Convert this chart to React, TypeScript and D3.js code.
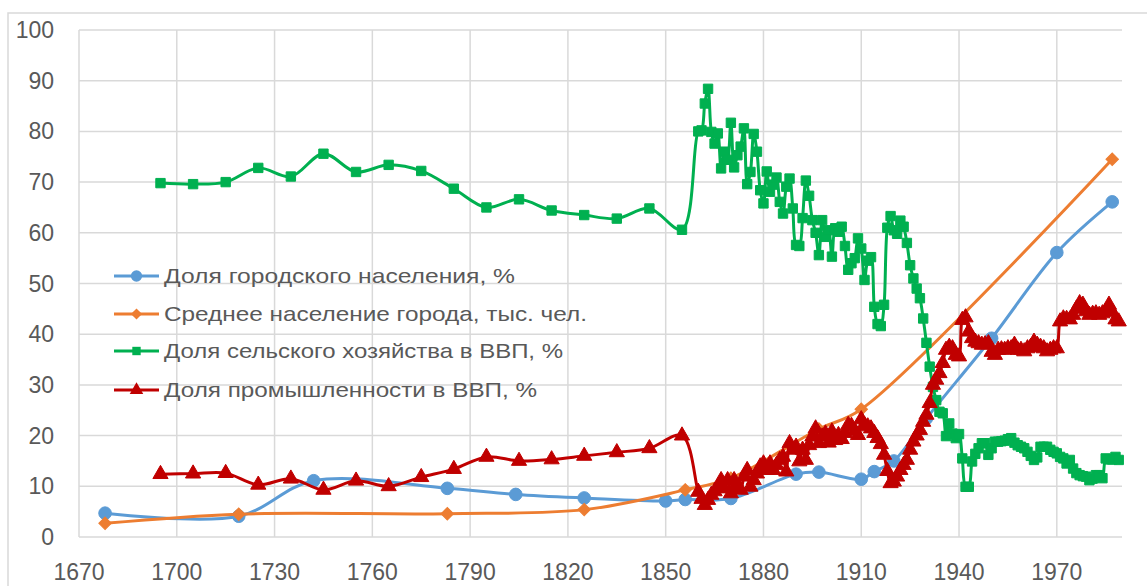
import React from 'react';
import * as d3 from 'd3';

// years on the axis
const xTicks = [1670, 1700, 1730, 1760, 1790, 1820, 1850, 1880, 1910, 1940, 1970];
const yTicks = [0, 10, 20, 30, 40, 50, 60, 70, 80, 90, 100];

// Доля городского населения, %
const urbanYears = [1678, 1719, 1742, 1783, 1804, 1825, 1850, 1856, 1870, 1890, 1897, 1910, 1914, 1920, 1930, 1950, 1970, 1987];
const urbanValues = [4.7, 4.1, 11.1, 9.6, 8.4, 7.7, 7.1, 7.4, 7.6, 12.4, 12.8, 11.4, 12.9, 15.0, 23.4, 39.2, 56.1, 66.1];

// Среднее население города, тыс. чел.
const cityYears = [1678, 1719, 1783, 1825, 1856, 1870, 1897, 1910, 1987];
const cityValues = [2.7, 4.5, 4.6, 5.4, 9.3, 11.6, 21.3, 25.2, 74.5];

// Доля сельского хозяйства в ВВП, %
const agriEarlyYears = [1695, 1705, 1715, 1725, 1735, 1745, 1755, 1765, 1775, 1785, 1795, 1805, 1815, 1825, 1835, 1845, 1855];
const agriEarlyValues = [69.8, 69.6, 70.0, 72.8, 71.1, 75.6, 72.0, 73.4, 72.2, 68.7, 65.0, 66.6, 64.4, 63.5, 62.8, 64.8, 60.6];
const agriAnnualValues = [
  80.0, 80.2, 85.5, 88.4, 79.9, 77.6, 79.6, 72.7, 76.0, 74.4, // 1860-1869
  81.7, 72.9, 75.3, 77.0, 80.6, 69.6, 72.0, 79.5, 76.0, 68.4, // 1870-1879
  65.8, 72.1, 68.1, 69.5, 70.9, 66.1, 63.8, 69.1, 70.7, 64.8, // 1880-1889
  57.6, 57.4, 62.9, 70.3, 67.3, 62.5, 60.0, 55.6, 62.5, 59.2, // 1890-1899
  60.5, 55.3, 60.9, 60.2, 61.2, 57.4, 52.7, 54.0, 55.0, 58.9, // 1900-1909
  56.9, 50.7, 54.5, 55.2, 45.4, 42.0, 41.6, 45.8, 61.0, 63.3, // 1910-1919
  60.5, 59.8, 62.4, 61.2, 58.0, 53.6, 51.0, 49.0, 47.1, 43.1, // 1920-1929
  38.3, 33.6, 29.6, 27.0, 24.7, 24.4, 19.9, 22.4, 20.4, 19.5, // 1930-1939
  20.3, 15.5, 9.9, 9.9, 14.9, 16.4, 17.5, 18.5, 18.5, 16.2,   // 1940-1949
  17.5, 18.8, 18.8, 18.9, 19.0, 19.3, 19.5, 18.6, 18.1, 17.8, // 1950-1959
  17.5, 16.8, 16.0, 15.2, 15.7, 17.8, 17.8, 17.8, 17.2, 16.8, // 1960-1969
  16.5, 15.8, 15.5, 14.5, 15.2, 13.5, 12.6, 12.2, 12.0, 11.9, // 1970-1979
  11.2, 11.5, 12.2, 12.2, 11.6, 15.5, 15.3, 15.3, 15.8, 15.2  // 1980-1989
];

// Доля промышленности в ВВП, %
const indEarlyYears = [1695, 1705, 1715, 1725, 1735, 1745, 1755, 1765, 1775, 1785, 1795, 1805, 1815, 1825, 1835, 1845, 1855];
const indEarlyValues = [12.4, 12.5, 12.6, 10.3, 11.5, 9.3, 11.1, 10.0, 11.8, 13.4, 15.8, 15.0, 15.3, 16.0, 16.7, 17.5, 20.0];
const indAnnualValues = [
  8.9, 7.5, 6.3, 7.3, 8.3, 9.0, 9.6, 11.2, 9.6, 11.2,        // 1860-1869
  8.6, 11.2, 9.9, 9.3, 11.9, 13.2, 9.9, 11.2, 12.5, 13.9,    // 1870-1879
  14.5, 13.2, 14.5, 13.2, 14.2, 15.2, 15.8, 12.9, 18.5, 17.2, // 1880-1889
  17.8, 14.9, 17.2, 15.2, 18.1, 19.8, 21.4, 18.5, 19.8, 20.4, // 1890-1899
  18.6, 20.8, 19.1, 20.1, 19.3, 20.5, 22.1, 21.9, 21.0, 20.1, // 1900-1909
  23.2, 22.1, 21.8, 21.4, 20.5, 19.5, 18.3, 16.2, 13.0, 10.6, // 1910-1919
  10.9, 11.9, 13.2, 14.2, 15.2, 17.2, 18.8, 20.0, 21.1, 22.7, // 1920-1929
  24.1, 26.4, 30.0, 31.0, 32.3, 34.3, 36.9, 37.5, 37.2, 35.9, // 1930-1939
  35.6, 42.8, 43.3, 40.5, 39.2, 38.5, 38.2, 37.9, 38.0, 38.2, // 1940-1949
  36.5, 35.9, 36.9, 37.0, 36.9, 37.2, 37.2, 37.9, 36.9, 36.9, // 1950-1959
  36.6, 37.2, 37.5, 38.5, 37.9, 37.5, 37.2, 36.6, 36.9, 37.2, // 1960-1969
  37.2, 42.5, 43.1, 43.0, 42.9, 43.8, 45.0, 46.1, 45.8, 44.5, // 1970-1979
  43.8, 44.0, 44.1, 43.8, 44.1, 44.5, 45.8, 44.4, 42.9, 42.5  // 1980-1989
];
const annualYears = d3.range(1860, 1990);

type Pt = [number, number];
const zip = (ys: number[], vs: number[]): Pt[] => ys.map((yr, i) => [yr, vs[i]]);

const series = [
  { name: 'Доля городского населения, %', color: '#5B9BD5', symbol: d3.symbolCircle, size: 125, rotate: 0, legendWidth: 351,
    points: zip(urbanYears, urbanValues) },
  { name: 'Среднее население города, тыс. чел.', color: '#ED7D31', symbol: d3.symbolSquare, size: 78, rotate: 45, legendWidth: 423,
    points: zip(cityYears, cityValues) },
  { name: 'Доля сельского хозяйства в ВВП, %', color: '#00B050', symbol: d3.symbolSquare, size: 88, rotate: 0, legendWidth: 399,
    points: zip(agriEarlyYears, agriEarlyValues).concat(zip(annualYears, agriAnnualValues)) },
  { name: 'Доля промышленности в ВВП, %', color: '#C00000', symbol: d3.symbolTriangle, size: 100, rotate: 0, legendWidth: 373,
    points: zip(indEarlyYears, indEarlyValues).concat(zip(annualYears, indAnnualValues)) },
];

const W = 1147;
const H = 586;
const plot = { left: 79, right: 1122, top: 30, bottom: 537 };
const font = '"Liberation Sans", Arial, sans-serif';
const textColor = '#595959';
const gridColor = '#d9d9d9';

export default function App() {
  const x = d3.scaleLinear().domain([1670, 1990]).range([plot.left, plot.right]);
  const y = d3.scaleLinear().domain([0, 100]).range([plot.bottom, plot.top]);
  const line = d3.line<Pt>()
    .x(d => x(d[0]))
    .y(d => y(d[1]))
    .curve(d3.curveCatmullRom.alpha(0.5));

  const legendX = 114;
  const legendRows = [276, 314, 351, 390];

  return (
    <svg width={W} height={H} style={{ position: 'absolute', left: 0, top: 0, background: '#fff' }}>
      {/* chart border, cut off on right/bottom like the reference */}
      <rect x={8} y={13} width={W + 20} height={H + 20} fill="#fff" stroke={gridColor} strokeWidth={1.5} />

      {/* grid */}
      {yTicks.map(t => (
        <line key={'h' + t} x1={plot.left} x2={plot.right} y1={y(t)} y2={y(t)} stroke={gridColor} strokeWidth={1.5} />
      ))}
      {xTicks.map(t => (
        <line key={'v' + t} x1={x(t)} x2={x(t)} y1={plot.top} y2={plot.bottom} stroke={gridColor} strokeWidth={1.5} />
      ))}

      {/* axis labels */}
      {yTicks.map(t => (
        <text key={'yl' + t} x={54} y={y(t)} dy="0.35em" textAnchor="end" fontFamily={font} fontSize={23} fill={textColor}>
          {t}
        </text>
      ))}
      {xTicks.map(t => (
        <text key={'xl' + t} x={x(t)} y={572} dy="0.35em" textAnchor="middle" fontFamily={font} fontSize={23} fill={textColor}>
          {t}
        </text>
      ))}

      {/* series */}
      {series.map(s => (
        <g key={s.name}>
          <path d={line(s.points) || ''} fill="none" stroke={s.color} strokeWidth={3} strokeLinejoin="round" />
          {s.points.map((p, i) => (
            <path key={i} d={d3.symbol(s.symbol, s.size)() || ''}
              transform={`translate(${x(p[0])},${y(p[1])}) rotate(${s.rotate})`}
              fill={s.color} stroke={s.color} strokeWidth={1} />
          ))}
        </g>
      ))}

      {/* legend */}
      {series.map((s, i) => (
        <g key={'lg' + i} transform={`translate(${legendX},${legendRows[i]})`}>
          <line x1={0} x2={45} y1={0} y2={0} stroke={s.color} strokeWidth={3} />
          <path d={d3.symbol(s.symbol, s.size * 0.8)() || ''} transform={`translate(22.5,0) rotate(${s.rotate})`} fill={s.color} />
          <text x={50} y={0} dy="0.35em" fontFamily={font} fontSize={21} fill={textColor}
            textLength={s.legendWidth} lengthAdjust="spacingAndGlyphs">
            {s.name}
          </text>
        </g>
      ))}
    </svg>
  );
}
